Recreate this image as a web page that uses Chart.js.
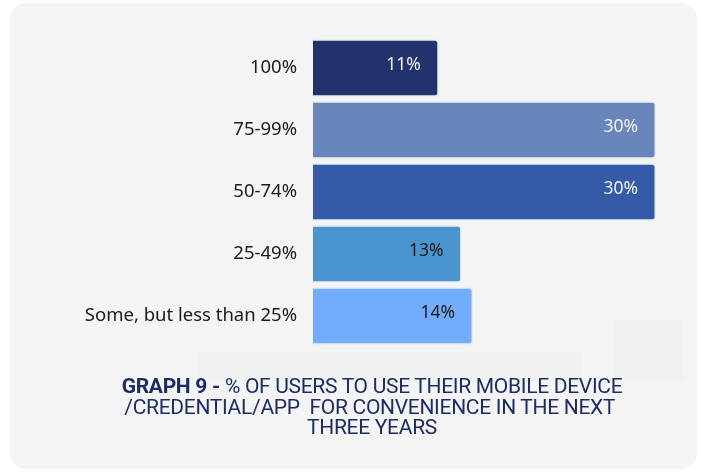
<!DOCTYPE html>
<html>
<head>
<meta charset="utf-8">
<script src="https://cdn.jsdelivr.net/npm/chart.js@4"></script>
<style>
  html, body { margin: 0; padding: 0; background: #ffffff; width: 701px; height: 472px; overflow: hidden; }
  #card { position: absolute; left: 10px; top: 3px; width: 687px; height: 466px; border-radius: 16px; background: #f4f4f4; }
  .ghost { position: absolute; background: #f1f1f1; }
  #wrap { position: absolute; left: 0; top: 0; width: 701px; height: 472px; }
  #title { position: absolute; left: 22px; top: 376px; width: 700px; text-align: center; font-family: Roboto, "Liberation Sans", sans-serif; font-size: 21px; line-height: 20.5px; color: #1b2d62; white-space: pre; letter-spacing: -0.3px; }
  #title b { font-weight: 700; }
</style>
</head>
<body>
<div id="card"></div>
<div class="ghost" style="left:198px;top:352px;width:384px;height:28px;"></div>
<div class="ghost" style="left:614px;top:320px;width:69px;height:60px;"></div>
<div id="wrap"><canvas id="c" width="701" height="472"></canvas></div>
<div id="title"><b>GRAPH 9 - </b>% OF USERS TO USE THEIR MOBILE DEVICE
/CREDENTIAL/APP  FOR CONVENIENCE IN THE NEXT 
THREE YEARS</div>
<script>
const categories = ["100%", "75-99%", "50-74%", "25-49%", "Some, but less than 25%"];
const values = [11, 30, 30, 13, 14];
const valueLabels = ["11%", "30%", "30%", "13%", "14%"];
const barColors = ["#22336b", "#6886b9", "#345aa8", "#4a94d0", "#72acfc"];
const labelColors = ["#f2f2f2", "#f2f2f2", "#f2f2f2", "#1a1a1a", "#1a1a1a"];

const valueLabelPlugin = {
  id: 'valueLabels',
  afterDatasetsDraw(chart) {
    const ctx = chart.ctx;
    const meta = chart.getDatasetMeta(0);
    ctx.save();
    ctx.font = '17.5px "Noto Sans", "Open Sans", sans-serif';
    ctx.textAlign = 'right';
    ctx.textBaseline = 'middle';
    meta.data.forEach((bar, i) => {
      ctx.fillStyle = labelColors[i];
      ctx.fillText(valueLabels[i], bar.x - 18, bar.y - 3);
    });
    ctx.restore();
  }
};

new Chart(document.getElementById('c'), {
  type: 'bar',
  data: {
    labels: categories,
    datasets: [{
      data: values,
      backgroundColor: barColors,
      borderColor: '#e6eaf3',
      borderWidth: 1.5,
      borderSkipped: 'start',
      borderRadius: 4,
      barPercentage: 0.93,
      categoryPercentage: 1.0
    }]
  },
  options: {
    indexAxis: 'y',
    responsive: false,
    animation: false,
    events: [],
    layout: { padding: { left: 0, right: 45, top: 37, bottom: 125 } },
    plugins: { legend: { display: false }, tooltip: { enabled: false }, title: { display: false } },
    scales: {
      x: { display: false, min: 0, max: 30 },
      y: {
        grid: { display: false, drawTicks: false },
        border: { display: false },
        ticks: {
          color: '#1a1a1a',
          padding: 16,
          font: { family: '"Noto Sans", "Open Sans", sans-serif', size: 18.5 }
        },
        afterFit(scale) { scale.width = 313; }
      }
    }
  },
  plugins: [valueLabelPlugin]
});
</script>
</body>
</html>
